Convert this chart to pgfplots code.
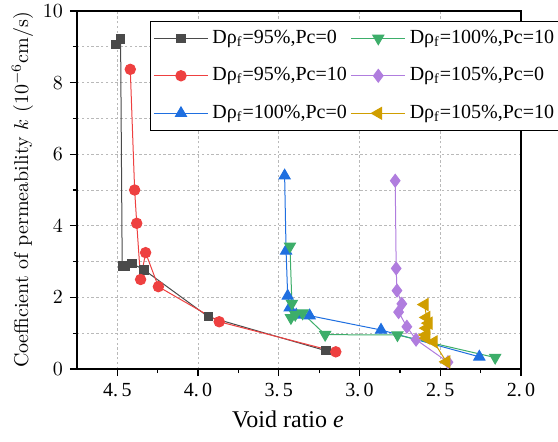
\documentclass[border=0pt]{standalone}
\usepackage{pgfplots}
\pgfplotsset{compat=1.18}
\usepackage{fontspec}
\newfontfamily\tnr{Liberation Serif}
\definecolor{cblk}{HTML}{4A4A4A}
\definecolor{cred}{HTML}{EE4040}
\definecolor{cblu}{HTML}{1F6FE0}
\definecolor{cgrn}{HTML}{3DAE6A}
\definecolor{cpur}{HTML}{B07DDE}
\definecolor{cgld}{HTML}{D09E00}
\begin{document}
\begin{tikzpicture}
\begin{axis}[
  name=ax,
  scale only axis,
  width=222pt, height=179pt,
  x dir=reverse,
  xmin=2, xmax=4.75, ymin=0, ymax=10,
  xtick={2,2.5,3,3.5,4,4.5},
  xticklabels={{\tnr 2.\,0},{\tnr 2.\,5},{\tnr 3.\,0},{\tnr 3.\,5},{\tnr 4.\,0},{\tnr 4.\,5}},
  minor x tick num=1,
  ytick={0,2,4,6,8,10},
  minor y tick num=1,
  tick pos=left,
  tick align=outside,
  major tick length=3.5pt,
  minor tick length=2pt,
  grid=major,
  ymajorgrids, yminorgrids,
  major grid style={gray!55, dash pattern=on 1.2pt off 1.2pt, line width=0.5pt},
  minor grid style={gray!55, dash pattern=on 1.2pt off 1.2pt, line width=0.5pt},
  axis line style={line width=0.7pt},
  every tick/.style={black, line width=0.6pt},
  xlabel={\tnr\large Void ratio \textit{e}},
  ylabel={Coefficient of permeability $k$ (10$^{-6}$cm/s)},
  xlabel style={yshift=0pt, xshift=-5.5pt},
  ylabel style={yshift=-2pt},
  legend columns=3,
  transpose legend,
  legend cell align=left,
  legend style={
    at={(0.1644,0.972)}, anchor=north west,
    font=\tnr, draw=black, fill=white, line width=0.5pt,
    inner xsep=1.5pt, inner ysep=2.3pt,
    row sep=6.6pt,
    /tikz/every even column/.append style={column sep=0pt},
  },
  legend image code/.code={\draw[mark repeat=2,mark phase=2,#1] plot coordinates {(0pt,0pt) (13.5pt,0pt) (27pt,0pt)};},
]
\addplot[cblk, line width=0.5pt, mark=square*, mark size=2.1pt, mark options={fill=cblk, draw=cblk}] coordinates {
(4.51,9.07) (4.48,9.22) (4.47,2.88) (4.45,2.87) (4.41,2.95) (4.335,2.77) (3.937,1.46) (3.207,0.51)};
\addlegendentry{Dρ\textsubscript{f}=95\%,Pc=0}
\addplot[cred, line width=0.5pt, mark=*, mark size=2.6pt, mark options={fill=cred, draw=cred}] coordinates {
(4.42,8.37) (4.393,5.0) (4.38,4.07) (4.356,2.5) (4.325,3.25) (4.246,2.30) (3.869,1.32) (3.147,0.48)};
\addlegendentry{Dρ\textsubscript{f}=95\%,Pc=10}
\addplot[cblu, line width=0.5pt, mark=triangle*, mark size=3.2pt, mark options={fill=cblu, draw=cblu}] coordinates {
(3.464,5.40) (3.455,3.30) (3.445,2.04) (3.433,1.71) (3.392,1.51) (3.309,1.49) (2.867,1.09) (2.258,0.34)};
\addlegendentry{Dρ\textsubscript{f}=100\%,Pc=0}
\addplot[cgrn, line width=0.5pt, mark=triangle*, mark size=3.2pt, mark options={fill=cgrn, draw=cgrn, rotate=180}] coordinates {
(3.431,3.43) (3.419,1.83) (3.425,1.43) (3.398,1.52) (3.353,1.56) (3.213,0.96) (2.765,0.95) (2.160,0.32)};
\addlegendentry{Dρ\textsubscript{f}=100\%,Pc=10}
\addplot[cpur, line width=0.5pt, mark=diamond*, mark size=3.2pt, mark options={fill=cpur, draw=cpur}] coordinates {
(2.779,5.26) (2.773,2.81) (2.768,2.19) (2.738,1.82) (2.758,1.59) (2.707,1.18) (2.650,0.82) (2.452,0.19)};
\addlegendentry{Dρ\textsubscript{f}=105\%,Pc=0}
\addplot[cgld, line width=0.5pt, mark=triangle*, mark size=3.4pt, mark options={fill=cgld, draw=cgld, rotate=90}] coordinates {
(2.597,1.80) (2.585,1.44) (2.572,1.28) (2.585,1.14) (2.591,0.95) (2.585,0.86) (2.540,0.76) (2.462,0.20)};
\addlegendentry{Dρ\textsubscript{f}=105\%,Pc=10}
\end{axis}
\pgfresetboundingbox
\path ([shift={(-38.5pt,-36pt)}]ax.south west) rectangle ([shift={(18.5pt,5.5pt)}]ax.north east);
\end{tikzpicture}
\end{document}
